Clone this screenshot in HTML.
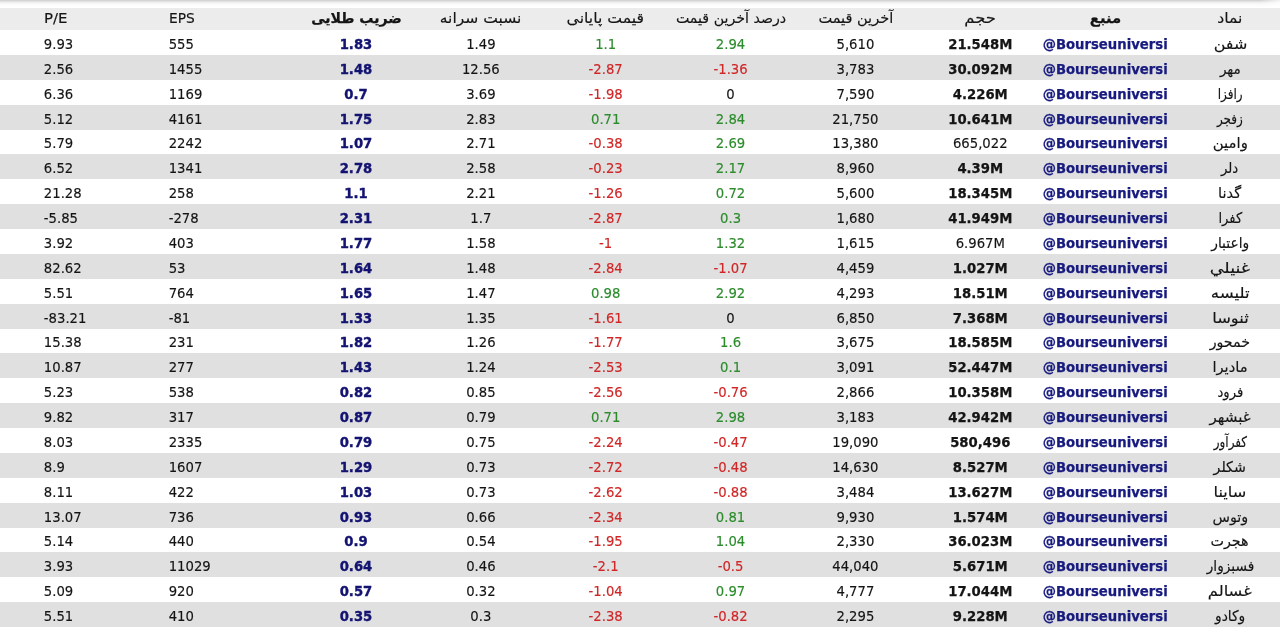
<!DOCTYPE html><html lang="fa"><head><meta charset="utf-8"><title>Bourse</title><style>

*{margin:0;padding:0;box-sizing:border-box}
html,body{width:1280px;height:642px;overflow:hidden;background:#fff}
body{position:relative;font-family:"DejaVu Sans Condensed","DejaVu Sans",sans-serif;font-size:14.7px;font-stretch:condensed;color:#141414;-webkit-text-stroke:0.15px}
.top{position:absolute;left:0;top:0;width:1280px;height:8px;background:linear-gradient(#d4d4d4 0.5px,#e2e2e2 1.5px,#efefef 2.5px,#f6f6f6 3.5px,#fafafa 4.5px,#fcfcfc 5.5px,#fefefe 6.5px,#fff 7.5px)}
.tf{position:absolute;left:1260px;top:0;width:20px;height:8px;background:linear-gradient(to right,rgba(255,255,255,0),rgba(255,255,255,.75))}
.hd{position:absolute;left:0;top:8px;width:1280px;height:22px;background:#ececec}
.r{position:absolute;left:0;width:1280px;height:24.875px}
.r.e{background:#e0e0e0}
.c{position:absolute;top:0;height:100%;white-space:nowrap;text-align:center;line-height:24.875px;padding-top:1.9px}
.fa{font-family:"DejaVu Sans",sans-serif;font-size:14.7px;font-stretch:normal}
.b{font-weight:bold;-webkit-text-stroke:0.25px}
i{display:inline-block;font-style:normal}
.k8 i,.k9 i{transform-origin:0 50%}
.n{color:#131372;font-weight:bold;-webkit-text-stroke:0.35px}
.u{color:#171a7e;font-weight:bold;-webkit-text-stroke:0.25px}
.g{color:#2c8c2c}
.rd{color:#d02626}
.k0{left:1167.57px;width:124.86px}
.k1{left:1042.71px;width:124.86px}
.k2{left:917.85px;width:124.86px}
.k3{left:792.99px;width:124.86px}
.k4{left:668.13px;width:124.86px}
.k5{left:543.27px;width:124.86px}
.k6{left:418.41px;width:124.86px}
.k7{left:293.55px;width:124.86px}
.k8{left:168.69px;width:124.86px}
.k9{left:43.83px;width:124.86px}
.k8,.k9{text-align:left;transform-origin:0 0}

</style></head><body>
<div class="top"></div><div class="tf"></div>
<div class="hd"><span class="c k0 fa" style="line-height:22px;padding-top:0;top:-1.2px"><i style="transform:scaleX(1.073)">نماد</i></span><span class="c k1 fa b" style="line-height:22px;padding-top:0;top:-1.2px"><i style="transform:scaleX(1.01)">منبع</i></span><span class="c k2 fa" style="line-height:22px;padding-top:0;top:-1.2px"><i style="transform:scaleX(1.115)">حجم</i></span><span class="c k3 fa" style="line-height:22px;padding-top:0;top:-1.2px"><i style="transform:scaleX(0.99)">آخرین قیمت</i></span><span class="c k4 fa" style="line-height:22px;padding-top:0;top:-1.2px"><i style="transform:scaleX(0.967)">درصد آخرین قیمت</i></span><span class="c k5 fa" style="line-height:22px;padding-top:0;top:-1.2px"><i style="transform:scaleX(1.067)">قیمت پایانی</i></span><span class="c k6 fa" style="line-height:22px;padding-top:0;top:-1.2px"><i style="transform:scaleX(1.057)">نسبت سرانه</i></span><span class="c k7 fa b" style="line-height:22px;padding-top:0;top:-1.2px"><i style="transform:scaleX(0.954)">ضریب طلایی</i></span><span class="c k8" style="line-height:22px;padding-top:0;top:-1.2px"><i style="transform:scaleX(1.04)">EPS</i></span><span class="c k9" style="line-height:22px;padding-top:0;top:-1.2px"><i style="transform:scaleX(1.13)">P/E</i></span></div>
<div class="r" style="top:30.000px"><span class="c k0 fa"><i style="transform:scaleX(1.086)">شفن</i></span><span class="c k1 u">@Bourseuniversi</span><span class="c k2 b">21.548M</span><span class="c k3">5,610</span><span class="c k4 g">2.94</span><span class="c k5 g">1.1</span><span class="c k6">1.49</span><span class="c k7 n">1.83</span><span class="c k8">555</span><span class="c k9">9.93</span></div>
<div class="r e" style="top:54.875px"><span class="c k0 fa"><i style="transform:scaleX(0.92)">مهر</i></span><span class="c k1 u">@Bourseuniversi</span><span class="c k2 b">30.092M</span><span class="c k3">3,783</span><span class="c k4 rd">-1.36</span><span class="c k5 rd">-2.87</span><span class="c k6">12.56</span><span class="c k7 n">1.48</span><span class="c k8">1455</span><span class="c k9">2.56</span></div>
<div class="r" style="top:79.750px"><span class="c k0 fa"><i style="transform:scaleX(0.82)">رافزا</i></span><span class="c k1 u">@Bourseuniversi</span><span class="c k2 b">4.226M</span><span class="c k3">7,590</span><span class="c k4">0</span><span class="c k5 rd">-1.98</span><span class="c k6">3.69</span><span class="c k7 n">0.7</span><span class="c k8">1169</span><span class="c k9">6.36</span></div>
<div class="r e" style="top:104.625px"><span class="c k0 fa"><i style="transform:scaleX(0.815)">زفجر</i></span><span class="c k1 u">@Bourseuniversi</span><span class="c k2 b">10.641M</span><span class="c k3">21,750</span><span class="c k4 g">2.84</span><span class="c k5 g">0.71</span><span class="c k6">2.83</span><span class="c k7 n">1.75</span><span class="c k8">4161</span><span class="c k9">5.12</span></div>
<div class="r" style="top:129.500px"><span class="c k0 fa"><i style="transform:scaleX(1.015)">وامین</i></span><span class="c k1 u">@Bourseuniversi</span><span class="c k2">665,022</span><span class="c k3">13,380</span><span class="c k4 g">2.69</span><span class="c k5 rd">-0.38</span><span class="c k6">2.71</span><span class="c k7 n">1.07</span><span class="c k8">2242</span><span class="c k9">5.79</span></div>
<div class="r e" style="top:154.375px"><span class="c k0 fa"><i style="transform:scaleX(0.905)">دلر</i></span><span class="c k1 u">@Bourseuniversi</span><span class="c k2 b">4.39M</span><span class="c k3">8,960</span><span class="c k4 g">2.17</span><span class="c k5 rd">-0.23</span><span class="c k6">2.58</span><span class="c k7 n">2.78</span><span class="c k8">1341</span><span class="c k9">6.52</span></div>
<div class="r" style="top:179.250px"><span class="c k0 fa"><i style="transform:scaleX(0.995)">گدنا</i></span><span class="c k1 u">@Bourseuniversi</span><span class="c k2 b">18.345M</span><span class="c k3">5,600</span><span class="c k4 g">0.72</span><span class="c k5 rd">-1.26</span><span class="c k6">2.21</span><span class="c k7 n">1.1</span><span class="c k8">258</span><span class="c k9">21.28</span></div>
<div class="r e" style="top:204.125px"><span class="c k0 fa"><i style="transform:scaleX(0.89)">کفرا</i></span><span class="c k1 u">@Bourseuniversi</span><span class="c k2 b">41.949M</span><span class="c k3">1,680</span><span class="c k4 g">0.3</span><span class="c k5 rd">-2.87</span><span class="c k6">1.7</span><span class="c k7 n">2.31</span><span class="c k8">-278</span><span class="c k9">-5.85</span></div>
<div class="r" style="top:229.000px"><span class="c k0 fa"><i style="transform:scaleX(0.94)">واعتبار</i></span><span class="c k1 u">@Bourseuniversi</span><span class="c k2">6.967M</span><span class="c k3">1,615</span><span class="c k4 g">1.32</span><span class="c k5 rd">-1</span><span class="c k6">1.58</span><span class="c k7 n">1.77</span><span class="c k8">403</span><span class="c k9">3.92</span></div>
<div class="r e" style="top:253.875px"><span class="c k0 fa"><i style="transform:scaleX(1.2)">غنيلي</i></span><span class="c k1 u">@Bourseuniversi</span><span class="c k2 b">1.027M</span><span class="c k3">4,459</span><span class="c k4 rd">-1.07</span><span class="c k5 rd">-2.84</span><span class="c k6">1.48</span><span class="c k7 n">1.64</span><span class="c k8">53</span><span class="c k9">82.62</span></div>
<div class="r" style="top:278.750px"><span class="c k0 fa"><i style="transform:scaleX(1.13)">تلیسه</i></span><span class="c k1 u">@Bourseuniversi</span><span class="c k2 b">18.51M</span><span class="c k3">4,293</span><span class="c k4 g">2.92</span><span class="c k5 g">0.98</span><span class="c k6">1.47</span><span class="c k7 n">1.65</span><span class="c k8">764</span><span class="c k9">5.51</span></div>
<div class="r e" style="top:303.625px"><span class="c k0 fa"><i style="transform:scaleX(1.11)">ثنوسا</i></span><span class="c k1 u">@Bourseuniversi</span><span class="c k2 b">7.368M</span><span class="c k3">6,850</span><span class="c k4">0</span><span class="c k5 rd">-1.61</span><span class="c k6">1.35</span><span class="c k7 n">1.33</span><span class="c k8">-81</span><span class="c k9">-83.21</span></div>
<div class="r" style="top:328.500px"><span class="c k0 fa"><i style="transform:scaleX(0.97)">خمحور</i></span><span class="c k1 u">@Bourseuniversi</span><span class="c k2 b">18.585M</span><span class="c k3">3,675</span><span class="c k4 g">1.6</span><span class="c k5 rd">-1.77</span><span class="c k6">1.26</span><span class="c k7 n">1.82</span><span class="c k8">231</span><span class="c k9">15.38</span></div>
<div class="r e" style="top:353.375px"><span class="c k0 fa"><i style="transform:scaleX(1.0)">مادیرا</i></span><span class="c k1 u">@Bourseuniversi</span><span class="c k2 b">52.447M</span><span class="c k3">3,091</span><span class="c k4 g">0.1</span><span class="c k5 rd">-2.53</span><span class="c k6">1.24</span><span class="c k7 n">1.43</span><span class="c k8">277</span><span class="c k9">10.87</span></div>
<div class="r" style="top:378.250px"><span class="c k0 fa"><i style="transform:scaleX(0.896)">فرود</i></span><span class="c k1 u">@Bourseuniversi</span><span class="c k2 b">10.358M</span><span class="c k3">2,866</span><span class="c k4 rd">-0.76</span><span class="c k5 rd">-2.56</span><span class="c k6">0.85</span><span class="c k7 n">0.82</span><span class="c k8">538</span><span class="c k9">5.23</span></div>
<div class="r e" style="top:403.125px"><span class="c k0 fa"><i style="transform:scaleX(1.027)">غبشهر</i></span><span class="c k1 u">@Bourseuniversi</span><span class="c k2 b">42.942M</span><span class="c k3">3,183</span><span class="c k4 g">2.98</span><span class="c k5 g">0.71</span><span class="c k6">0.79</span><span class="c k7 n">0.87</span><span class="c k8">317</span><span class="c k9">9.82</span></div>
<div class="r" style="top:428.000px"><span class="c k0 fa"><i style="transform:scaleX(0.817)">کفرآور</i></span><span class="c k1 u">@Bourseuniversi</span><span class="c k2 b">580,496</span><span class="c k3">19,090</span><span class="c k4 rd">-0.47</span><span class="c k5 rd">-2.24</span><span class="c k6">0.75</span><span class="c k7 n">0.79</span><span class="c k8">2335</span><span class="c k9">8.03</span></div>
<div class="r e" style="top:452.875px"><span class="c k0 fa"><i style="transform:scaleX(0.968)">شکلر</i></span><span class="c k1 u">@Bourseuniversi</span><span class="c k2 b">8.527M</span><span class="c k3">14,630</span><span class="c k4 rd">-0.48</span><span class="c k5 rd">-2.72</span><span class="c k6">0.73</span><span class="c k7 n">1.29</span><span class="c k8">1607</span><span class="c k9">8.9</span></div>
<div class="r" style="top:477.750px"><span class="c k0 fa"><i style="transform:scaleX(1.1)">ساینا</i></span><span class="c k1 u">@Bourseuniversi</span><span class="c k2 b">13.627M</span><span class="c k3">3,484</span><span class="c k4 rd">-0.88</span><span class="c k5 rd">-2.62</span><span class="c k6">0.73</span><span class="c k7 n">1.03</span><span class="c k8">422</span><span class="c k9">8.11</span></div>
<div class="r e" style="top:502.625px"><span class="c k0 fa"><i style="transform:scaleX(0.974)">وتوس</i></span><span class="c k1 u">@Bourseuniversi</span><span class="c k2 b">1.574M</span><span class="c k3">9,930</span><span class="c k4 g">0.81</span><span class="c k5 rd">-2.34</span><span class="c k6">0.66</span><span class="c k7 n">0.93</span><span class="c k8">736</span><span class="c k9">13.07</span></div>
<div class="r" style="top:527.500px"><span class="c k0 fa"><i style="transform:scaleX(0.974)">هجرت</i></span><span class="c k1 u">@Bourseuniversi</span><span class="c k2 b">36.023M</span><span class="c k3">2,330</span><span class="c k4 g">1.04</span><span class="c k5 rd">-1.95</span><span class="c k6">0.54</span><span class="c k7 n">0.9</span><span class="c k8">440</span><span class="c k9">5.14</span></div>
<div class="r e" style="top:552.375px"><span class="c k0 fa"><i style="transform:scaleX(0.933)">فسبزوار</i></span><span class="c k1 u">@Bourseuniversi</span><span class="c k2 b">5.671M</span><span class="c k3">44,040</span><span class="c k4 rd">-0.5</span><span class="c k5 rd">-2.1</span><span class="c k6">0.46</span><span class="c k7 n">0.64</span><span class="c k8">11029</span><span class="c k9">3.93</span></div>
<div class="r" style="top:577.250px"><span class="c k0 fa"><i style="transform:scaleX(1.11)">غسالم</i></span><span class="c k1 u">@Bourseuniversi</span><span class="c k2 b">17.044M</span><span class="c k3">4,777</span><span class="c k4 g">0.97</span><span class="c k5 rd">-1.04</span><span class="c k6">0.32</span><span class="c k7 n">0.57</span><span class="c k8">920</span><span class="c k9">5.09</span></div>
<div class="r e" style="top:602.125px"><span class="c k0 fa"><i style="transform:scaleX(0.94)">وکادو</i></span><span class="c k1 u">@Bourseuniversi</span><span class="c k2 b">9.228M</span><span class="c k3">2,295</span><span class="c k4 rd">-0.82</span><span class="c k5 rd">-2.38</span><span class="c k6">0.3</span><span class="c k7 n">0.35</span><span class="c k8">410</span><span class="c k9">5.51</span></div>
</body></html>
